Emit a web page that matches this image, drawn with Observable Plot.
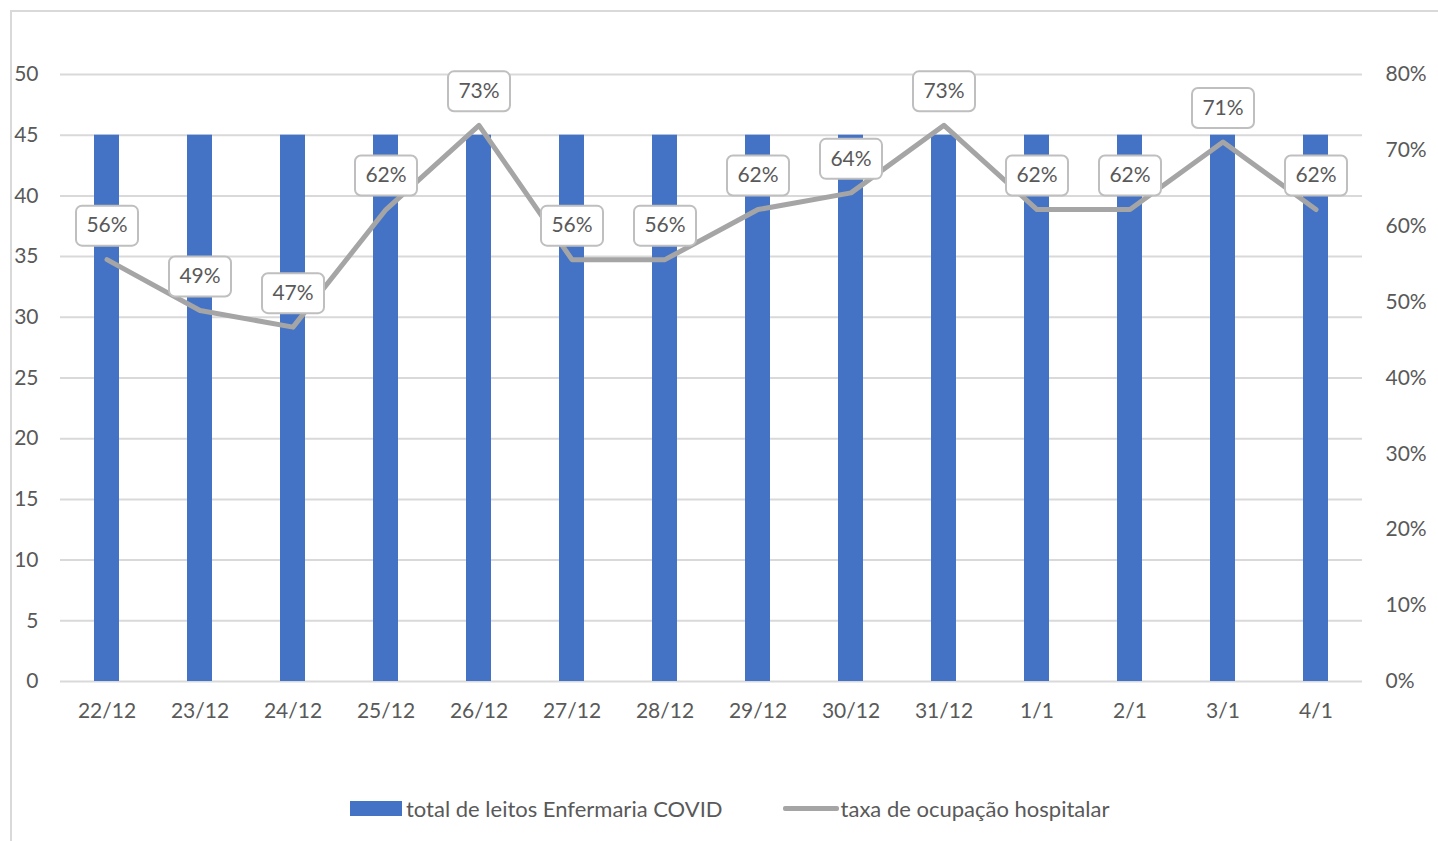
<!DOCTYPE html>
<html><head><meta charset="utf-8">
<script src="https://cdn.jsdelivr.net/npm/d3@7"></script>
<script src="https://cdn.jsdelivr.net/npm/@observablehq/plot@0.6"></script>
<style>
body{margin:0;background:#fff;font-family:Lato,"Open Sans",sans-serif;color:#595959;overflow:hidden}
#frame{position:absolute;left:10px;top:10px;width:1450px;height:860px;border:2px solid #d9d9d9;box-sizing:border-box}
#chart{position:absolute;left:0;top:0}
#legend{position:absolute;top:795px;left:350px;display:flex;align-items:center;font-size:22px;color:#595959;white-space:nowrap}
.sw{display:inline-block}
</style></head><body>
<div id="frame"></div><div id="chart"></div><div id="legend"></div>
<script>
const dates = ["22/12","23/12","24/12","25/12","26/12","27/12","28/12","29/12","30/12","31/12","1/1","2/1","3/1","4/1"];
const beds = [45,45,45,45,45,45,45,45,45,45,45,45,45,45];
const occupancy = [0.556,0.489,0.467,0.622,0.733,0.556,0.556,0.622,0.644,0.733,0.622,0.622,0.711,0.622];
const leftTicks = [0,5,10,15,20,25,30,35,40,45,50];
const rightTicks = [0,0.1,0.2,0.3,0.4,0.5,0.6,0.7,0.8];
const seriesNames = ["total de leitos Enfermaria COVID","taxa de ocupação hospitalar"];
const barColor = "#4472C4", lineColor = "#A5A5A5";
const ratio = 50/0.8;
const pct = d3.format(".0%");
const data = dates.map((d,i)=>({date:d, beds:beds[i], occ:occupancy[i], occY:occupancy[i]*ratio}));

function boxed(index, scales, values, dims, ctx, next) {
  const g = next(index, scales, values, dims, ctx);
  const ns = "http://www.w3.org/2000/svg";
  const wrap = document.createElementNS(ns, "g");
  const boxes = document.createElementNS(ns, "g");
  const tf = g.getAttribute("transform");
  if (tf) boxes.setAttribute("transform", tf);
  for (const i of index) {
    const r = document.createElementNS(ns, "rect");
    const cx = values.x[i], cy = values.y[i];
    r.setAttribute("x", cx - 31); r.setAttribute("y", cy - 20);
    r.setAttribute("width", 62); r.setAttribute("height", 40);
    r.setAttribute("rx", 6);
    r.setAttribute("fill", "#fff"); r.setAttribute("stroke", "#bfbfbf"); r.setAttribute("stroke-width", 2);
    boxes.appendChild(r);
  }
  wrap.appendChild(boxes);
  wrap.appendChild(g);
  return wrap;
}

const chart = Plot.plot({
  width: 1438, height: 745,
  marginLeft: 60, marginRight: 76, marginTop: 74, marginBottom: 64,
  style: {fontFamily: "Lato, 'Open Sans', sans-serif", fontSize: "21px", color: "#595959", background: "transparent"},
  x: {type: "band", domain: dates, paddingInner: 0.73, paddingOuter: 0.365, label: null},
  y: {domain: [0, 50], label: null},
  marks: [
    Plot.gridY(leftTicks, {stroke: "#d9d9d9", strokeOpacity: 1, strokeWidth: 2}),
    Plot.barY(data, {x: "date", y: "beds", fill: barColor}),
    Plot.lineY(data, {x: "date", y: "occY", stroke: lineColor, strokeWidth: 5, strokeLinejoin: "round"}),
    Plot.text(data, {x: "date", y: "occY", text: d => pct(d.occ), dy: -34, fill: "#595959", fontSize: 21, render: boxed}),
    Plot.axisY(leftTicks, {anchor: "left", tickSize: 0, tickPadding: 22, label: null, fontSize: 21}),
    Plot.axisY(rightTicks.map(t => t*ratio), {anchor: "right", tickSize: 0, tickPadding: 23, label: null, fontSize: 21, tickFormat: d => pct(d/ratio)}),
    Plot.axisX({tickSize: 0, tickPadding: 22, label: null, fontSize: 21})
  ]
});
document.getElementById("chart").appendChild(chart);

const lg = document.getElementById("legend");
lg.innerHTML = `<span class="sw" style="width:52px;height:15px;background:${barColor}"></span><span style="margin-left:4px">${seriesNames[0]}</span>`+
  `<span class="sw" style="width:56px;height:5px;background:${lineColor};margin-left:60px;border-radius:2px"></span><span style="margin-left:2px">${seriesNames[1]}</span>`;
</script>
</body></html>
